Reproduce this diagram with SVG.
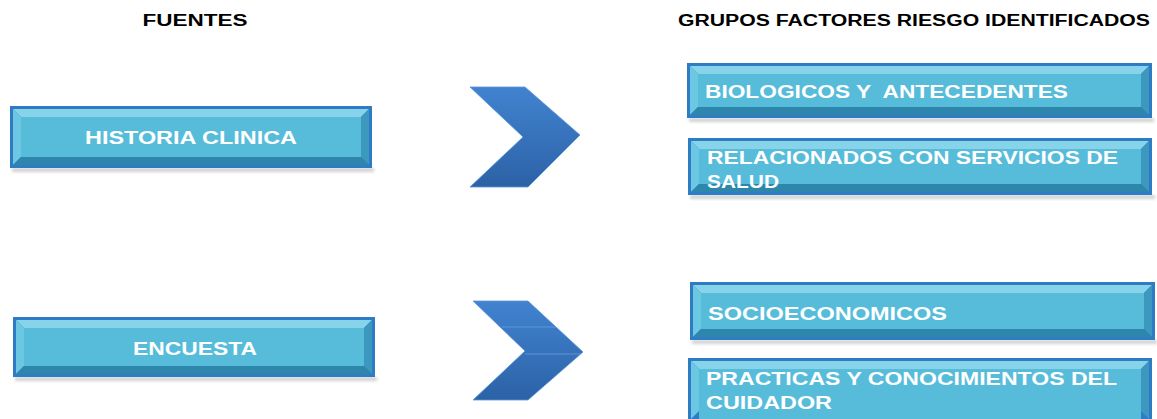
<svg xmlns="http://www.w3.org/2000/svg" width="1157" height="419" viewBox="0 0 1157 419">
<defs>
<linearGradient id="chev" x1="0" y1="0" x2="0" y2="1">
<stop offset="0" stop-color="#4183D0"/>
<stop offset="1" stop-color="#2C62A6"/>
</linearGradient>
<filter id="sh" x="-5%" y="-20%" width="110%" height="150%">
<feGaussianBlur stdDeviation="1.5"/>
</filter>
</defs>
<style>
.hdr{font-family:"Liberation Sans",Arial,sans-serif;font-weight:bold;font-size:16px;fill:#000}
.lbl{font-family:"Liberation Sans",Arial,sans-serif;font-weight:bold;font-size:19px;fill:#fff;white-space:pre}
.frame{fill:#2D7CC4}
.face{fill:#56BCDA}
.bt{fill:#86D3EA}
.bl{fill:#6CC7E3}
.br{fill:#3C98BE}
.bb{fill:#2F86AC}
.shadow{fill:#9A9A9A;opacity:0.45}
.chev{fill:url(#chev);stroke:#5B95D8;stroke-width:0.8}
.seg{stroke:#6FA3E0;stroke-width:1;opacity:0.7}
</style>

<text class="hdr" x="195" y="26" text-anchor="middle" textLength="105" lengthAdjust="spacingAndGlyphs">FUENTES</text>
<text class="hdr" x="678" y="26" textLength="472" lengthAdjust="spacingAndGlyphs">GRUPOS FACTORES RIESGO IDENTIFICADOS</text>

<g id="historia">
<rect class="shadow" x="12" y="168" width="362" height="4" filter="url(#sh)"/>
<rect class="frame" x="10" y="106" width="362" height="62"/>
<polygon class="bt" points="13,109 369,109 361,117 21,117"/>
<polygon class="bl" points="13,109 21,117 21,157 13,165"/>
<polygon class="br" points="369,109 369,165 361,157 361,117"/>
<polygon class="bb" points="13,165 21,157 361,157 369,165"/>
<rect class="face" x="21" y="117" width="340" height="40"/>
<text class="lbl" x="191" y="144" text-anchor="middle" textLength="212" lengthAdjust="spacingAndGlyphs">HISTORIA CLINICA</text>
</g>

<g id="encuesta">
<rect class="shadow" x="15" y="377" width="362" height="4" filter="url(#sh)"/>
<rect class="frame" x="13" y="317" width="362" height="60"/>
<polygon class="bt" points="16,320 372,320 364,328 24,328"/>
<polygon class="bl" points="16,320 24,328 24,366 16,374"/>
<polygon class="br" points="372,320 372,374 364,366 364,328"/>
<polygon class="bb" points="16,374 24,366 364,366 372,374"/>
<rect class="face" x="24" y="328" width="340" height="38"/>
<text class="lbl" x="195" y="355" text-anchor="middle" textLength="124" lengthAdjust="spacingAndGlyphs">ENCUESTA</text>
</g>

<g id="chevron1">
<polygon class="chev" points="470,87 525,87 580,135 528,187 470,187 523,137"/>
</g>

<g id="chevron2">
<polygon class="chev" points="473,301 528,301 583,352 528,400 473,400 525,351"/>
<line class="seg" x1="502" y1="327" x2="556" y2="327"/>
<line class="seg" x1="525" y1="354" x2="581" y2="354"/>
</g>

<g id="biologicos">
<rect class="shadow" x="689" y="118" width="465" height="4" filter="url(#sh)"/>
<rect class="frame" x="687" y="63" width="465" height="55"/>
<polygon class="bt" points="690,66 1149,66 1141,74 698,74"/>
<polygon class="bl" points="690,66 698,74 698,107 690,115"/>
<polygon class="br" points="1149,66 1149,115 1141,107 1141,74"/>
<polygon class="bb" points="690,115 698,107 1141,107 1149,115"/>
<rect class="face" x="698" y="74" width="443" height="33"/>
<text class="lbl" x="705" y="98" textLength="363" lengthAdjust="spacingAndGlyphs">BIOLOGICOS Y  ANTECEDENTES</text>
</g>

<g id="servicios">
<rect class="shadow" x="690" y="195" width="465" height="4" filter="url(#sh)"/>
<rect class="frame" x="688" y="138" width="464" height="57"/>
<polygon class="bt" points="691,141 1149,141 1141,149 699,149"/>
<polygon class="bl" points="691,141 699,149 699,184 691,192"/>
<polygon class="br" points="1149,141 1149,192 1141,184 1141,149"/>
<polygon class="bb" points="691,192 699,184 1141,184 1149,192"/>
<rect class="face" x="699" y="149" width="442" height="35"/>
<text class="lbl" x="707" y="164" textLength="411" lengthAdjust="spacingAndGlyphs">RELACIONADOS CON SERVICIOS DE</text>
<text class="lbl" x="707" y="188" textLength="72" lengthAdjust="spacingAndGlyphs">SALUD</text>
</g>

<g id="socioeconomicos">
<rect class="shadow" x="692" y="340" width="465" height="4" filter="url(#sh)"/>
<rect class="frame" x="690" y="282" width="465" height="58"/>
<polygon class="bt" points="693,285 1152,285 1144,293 701,293"/>
<polygon class="bl" points="693,285 701,293 701,329 693,337"/>
<polygon class="br" points="1152,285 1152,337 1144,329 1144,293"/>
<polygon class="bb" points="693,337 701,329 1144,329 1152,337"/>
<rect class="face" x="701" y="293" width="443" height="36"/>
<text class="lbl" x="708" y="320" textLength="239" lengthAdjust="spacingAndGlyphs">SOCIOECONOMICOS</text>
</g>

<g id="practicas">
<rect class="frame" x="688" y="358" width="464" height="64"/>
<polygon class="bt" points="691,361 1149,361 1141,369 699,369"/>
<polygon class="bl" points="691,361 699,369 699,411 691,419"/>
<polygon class="br" points="1149,361 1149,419 1141,411 1141,369"/>
<rect class="face" x="699" y="369" width="442" height="50"/>
<text class="lbl" x="706" y="385" textLength="411" lengthAdjust="spacingAndGlyphs">PRACTICAS Y CONOCIMIENTOS DEL</text>
<text class="lbl" x="706" y="409" textLength="126" lengthAdjust="spacingAndGlyphs">CUIDADOR</text>
</g>

<g id="connectors"></g>
</svg>
